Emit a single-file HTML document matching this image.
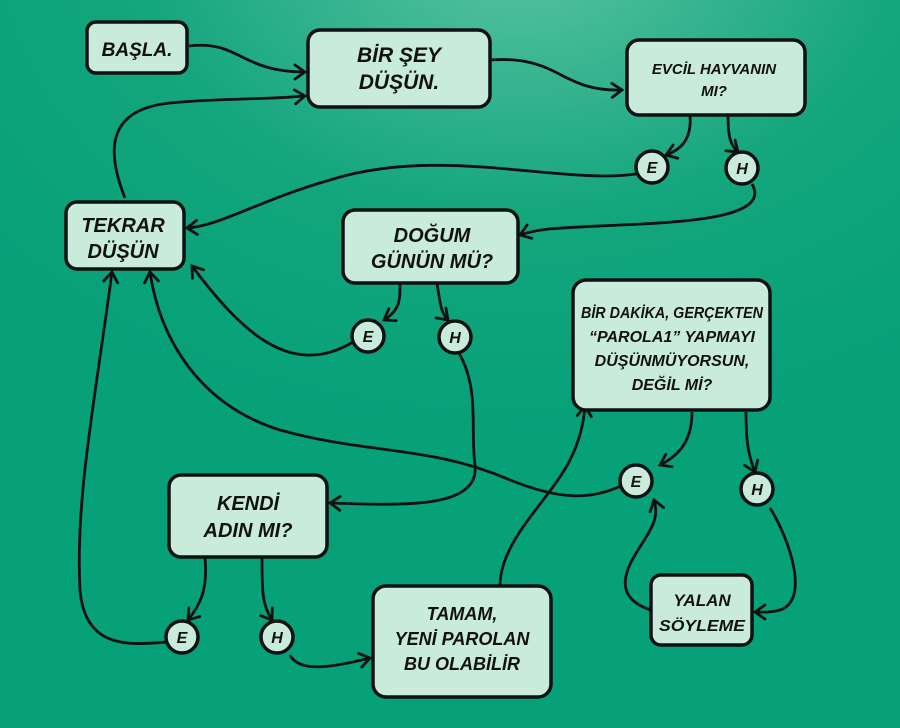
<!DOCTYPE html>
<html><head><meta charset="utf-8"><style>
html,body{margin:0;padding:0;width:900px;height:728px;overflow:hidden}
body{background:radial-gradient(ellipse 700px 500px at 520px -60px,#5cc4a3 0%,#14a67d 55%,#06a079 100%)}
svg{position:absolute;left:0;top:0}
text{font-family:"Liberation Sans","DejaVu Sans",sans-serif;font-weight:bold;font-style:italic;fill:#111;text-anchor:middle}
.b{fill:#c8ebdc;stroke:#111;stroke-width:3.5}
.l{fill:none;stroke:#111;stroke-width:2.8;marker-end:url(#a)}
</style></head><body>
<svg width="900" height="728" viewBox="0 0 900 728">
<defs><marker id="a" viewBox="-2 -9 15 18" refX="10" refY="0" markerWidth="15" markerHeight="18" orient="auto" markerUnits="userSpaceOnUse"><path d="M0,-7 L10,0 L0,7" fill="none" stroke="#111" stroke-width="2.8" stroke-linecap="round"/></marker></defs>
<path class="l" d="M189,46 C240,40 240,72 305,72"/>
<path class="l" d="M125,198 C110,160 100,110 170,103 C220,98 260,100 305,96"/>
<path class="l" d="M490,60 C560,55 560,92 622,90"/>
<path class="l" d="M690,116 C692,140 680,150 666,155"/>
<path class="l" d="M728,116 C728,135 730,145 738,152"/>
<path class="l" d="M636,174 C560,185 440,145 330,180 C260,200 220,226 187,228"/>
<path class="l" d="M752,184 C770,215 700,222 620,225 C560,228 540,228 520,235"/>
<path class="l" d="M400,284 C400,300 400,310 384,320"/>
<path class="l" d="M437,284 C440,300 440,312 448,320"/>
<path class="l" d="M353,342 C290,380 240,330 192,266"/>
<path class="l" d="M459,353 C480,390 470,430 475,465 C480,510 400,505 330,503"/>
<path class="l" d="M692,412 C692,440 680,455 660,465"/>
<path class="l" d="M746,412 C746,440 748,455 755,472"/>
<path class="l" d="M621,486 C590,500 560,500 510,480 C430,445 370,455 280,430 C200,405 160,340 150,272"/>
<path class="l" d="M770,508 C790,540 810,600 780,610 C770,613 762,612 755,612"/>
<path class="l" d="M651,610 C620,600 620,580 635,555 C650,530 660,520 654,500"/>
<path class="l" d="M205,558 C208,590 200,605 188,620"/>
<path class="l" d="M262,558 C262,590 262,605 272,620"/>
<path class="l" d="M167,642 C130,645 85,650 80,590 C75,500 95,400 112,272"/>
<path class="l" d="M290,655 C300,675 340,665 370,658"/>
<path class="l" d="M500,586 C500,540 550,500 570,460 C580,440 584,420 585,406"/>
<rect class="b" x="87" y="22" width="100" height="51" rx="9"/>
<text x="137" y="56" font-size="19">BAŞLA.</text>
<rect class="b" x="308" y="30" width="182" height="77" rx="12"/>
<text x="399" y="62" font-size="21">BİR ŞEY</text><text x="399" y="89" font-size="21">DÜŞÜN.</text>
<rect class="b" x="627" y="40" width="178" height="75" rx="12"/>
<text x="714" y="74" font-size="15">EVCİL HAYVANIN</text><text x="714" y="96" font-size="15">MI?</text>
<rect class="b" x="66" y="202" width="118" height="67" rx="11"/>
<text x="123" y="232" font-size="20">TEKRAR</text><text x="123" y="258" font-size="20">DÜŞÜN</text>
<rect class="b" x="343" y="210" width="175" height="73" rx="12"/>
<text x="432" y="242" font-size="20">DOĞUM</text><text x="432" y="268" font-size="20">GÜNÜN MÜ?</text>
<rect class="b" x="573" y="280" width="197" height="130" rx="13"/>
<g font-size="15.5"><text x="672" y="318" font-size="15.5" textLength="182" lengthAdjust="spacingAndGlyphs">BİR DAKİKA, GERÇEKTEN</text><text x="672" y="342" font-size="16">“PAROLA1” YAPMAYI</text><text x="672" y="366" font-size="16">DÜŞÜNMÜYORSUN,</text><text x="672" y="390" font-size="16">DEĞİL Mİ?</text></g>
<rect class="b" x="169" y="475" width="158" height="82" rx="12"/>
<text x="248" y="510" font-size="20">KENDİ</text><text x="248" y="537" font-size="20">ADIN MI?</text>
<rect class="b" x="373" y="586" width="178" height="111" rx="13"/>
<text x="462" y="620" font-size="18">TAMAM,</text><text x="462" y="645" font-size="18">YENİ PAROLAN</text><text x="462" y="670" font-size="18">BU OLABİLİR</text>
<rect class="b" x="651" y="575" width="101" height="70" rx="10"/>
<text x="702" y="606" font-size="17">YALAN</text><text x="702" y="631" font-size="16" textLength="86" lengthAdjust="spacingAndGlyphs">SÖYLEME</text>
<circle class="b" cx="652" cy="167" r="16"/><text x="652" y="173" font-size="16">E</text>
<circle class="b" cx="742" cy="168" r="16"/><text x="742" y="174" font-size="16">H</text>
<circle class="b" cx="368" cy="336" r="16"/><text x="368" y="342" font-size="16">E</text>
<circle class="b" cx="455" cy="337" r="16"/><text x="455" y="343" font-size="16">H</text>
<circle class="b" cx="636" cy="481" r="16"/><text x="636" y="487" font-size="16">E</text>
<circle class="b" cx="757" cy="489" r="16"/><text x="757" y="495" font-size="16">H</text>
<circle class="b" cx="182" cy="637" r="16"/><text x="182" y="643" font-size="16">E</text>
<circle class="b" cx="277" cy="637" r="16"/><text x="277" y="643" font-size="16">H</text>
</svg>
</body></html>
